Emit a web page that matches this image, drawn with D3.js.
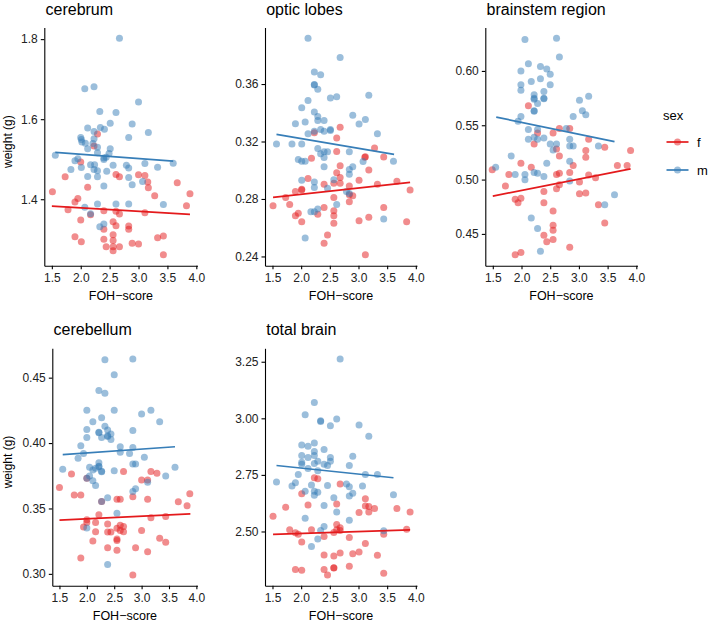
<!DOCTYPE html>
<html><head><meta charset="utf-8">
<script src="https://cdn.jsdelivr.net/npm/d3@7"></script>
<style>body{margin:0;background:#fff}svg{display:block;font-family:"Liberation Sans",Arial,Helvetica,sans-serif}</style>
</head><body><svg id="c" width="709" height="625"></svg>
<script>
// ---------- data ----------
const xTicks = [1.5, 2.0, 2.5, 3.0, 3.5, 4.0];
const sexes = ["f", "m"];
const sexColors = ["#E41A1C", "#377EB8"];

const cerebrumM = [[2.67,1.802],[2.07,1.676],[2.23,1.681],[3.00,1.643],[2.33,1.619],[2.61,1.617],[2.12,1.578],[2.34,1.579],[2.41,1.575],[2.51,1.590],[2.89,1.588],[3.17,1.567],[2.23,1.569],[2.83,1.554],[2.00,1.554],[2.01,1.549],[2.02,1.543],[2.23,1.551],[2.08,1.540],[2.12,1.526],[2.21,1.539],[2.29,1.530],[2.51,1.526],[2.29,1.516],[1.56,1.510],[2.49,1.514],[2.44,1.505],[2.40,1.503],[2.40,1.499],[1.95,1.501],[1.90,1.496],[2.01,1.479],[1.83,1.474],[2.17,1.486],[2.24,1.486],[2.23,1.474],[2.29,1.471],[2.45,1.470],[2.56,1.485],[2.79,1.485],[2.83,1.478],[3.11,1.489],[3.33,1.480],[3.60,1.490],[2.12,1.457],[2.29,1.456],[2.83,1.454],[2.40,1.433],[2.89,1.436],[3.07,1.444],[2.07,1.380],[2.29,1.388],[2.61,1.388],[2.83,1.388],[3.43,1.387],[2.17,1.364],[2.33,1.331],[2.40,1.338]];
const cerebrumF = [[2.29,1.563],[2.23,1.533],[2.00,1.493],[1.73,1.456],[2.61,1.462],[2.67,1.456],[3.00,1.461],[3.11,1.459],[3.16,1.443],[3.17,1.429],[3.67,1.441],[1.51,1.419],[2.12,1.430],[3.89,1.414],[3.28,1.409],[1.95,1.402],[1.90,1.393],[1.78,1.374],[3.83,1.384],[2.17,1.361],[2.40,1.371],[2.61,1.370],[2.67,1.363],[3.11,1.366],[2.00,1.348],[2.56,1.344],[2.61,1.334],[2.83,1.333],[2.83,1.325],[2.40,1.325],[1.90,1.306],[2.56,1.311],[2.01,1.294],[2.40,1.300],[2.56,1.297],[2.89,1.290],[3.00,1.288],[3.33,1.304],[3.43,1.308],[2.44,1.281],[2.56,1.281],[2.67,1.281],[2.56,1.271],[3.43,1.261]];
const cerebrumFitM = [[1.56,1.517],[3.60,1.495]];
const cerebrumFitF = [[1.50,1.383],[3.89,1.362]];

const opticM = [[2.12,0.3918],[2.68,0.3785],[2.23,0.3683],[2.34,0.3665],[2.23,0.3597],[2.23,0.3593],[2.29,0.3563],[2.12,0.3485],[2.51,0.3503],[2.62,0.3512],[3.18,0.3522],[2.01,0.3434],[2.23,0.3406],[2.29,0.3374],[2.90,0.3383],[1.90,0.3323],[2.07,0.3335],[2.29,0.3346],[2.40,0.3346],[3.12,0.3353],[3.01,0.3321],[2.23,0.3272],[2.34,0.3284],[2.40,0.3272],[2.51,0.3277],[2.51,0.3284],[2.12,0.3254],[3.33,0.3254],[1.57,0.3182],[1.84,0.3182],[2.01,0.3182],[2.29,0.3152],[2.34,0.3115],[2.40,0.3129],[2.46,0.3129],[2.40,0.3088],[2.84,0.3129],[1.95,0.3074],[2.01,0.3062],[2.07,0.3062],[3.08,0.3060],[3.61,0.3062],[2.40,0.3025],[2.90,0.3025],[2.84,0.3005],[2.84,0.2972],[2.01,0.2931],[2.23,0.2919],[2.57,0.2933],[2.23,0.2880],[2.46,0.2875],[2.79,0.2852],[2.84,0.2838],[2.62,0.2762],[2.23,0.2711],[2.17,0.2711],[2.29,0.2730],[3.44,0.2661],[2.07,0.2529]];
const opticF = [[2.68,0.3300],[2.23,0.3261],[2.62,0.3224],[3.28,0.3155],[3.12,0.3094],[3.11,0.3090],[3.44,0.3092],[2.18,0.3083],[2.62,0.3131],[2.68,0.3032],[3.18,0.3002],[2.62,0.2982],[2.68,0.2949],[2.12,0.2942],[2.57,0.2910],[2.68,0.2910],[3.01,0.2931],[3.33,0.2903],[2.40,0.2903],[2.84,0.2891],[3.67,0.2924],[3.90,0.2862],[1.90,0.2852],[2.01,0.2868],[2.01,0.2862],[2.84,0.2829],[2.90,0.2822],[2.57,0.2811],[1.73,0.2811],[1.80,0.2762],[2.84,0.2781],[1.51,0.2753],[2.40,0.2741],[3.44,0.2741],[2.57,0.2718],[1.95,0.2700],[2.29,0.2693],[1.90,0.2684],[2.57,0.2684],[3.18,0.2672],[2.01,0.2642],[2.57,0.2631],[3.01,0.2649],[3.84,0.2642],[2.46,0.2550],[2.40,0.2492],[3.12,0.2411]];
const opticFitM = [[1.57,0.3249],[3.62,0.3111]];
const opticFitF = [[1.51,0.2811],[3.90,0.2915]];

const brainstemM = [[2.06,0.629],[2.61,0.630],[2.66,0.6128],[2.12,0.6067],[1.99,0.600],[2.33,0.604],[2.44,0.6018],[2.50,0.5969],[2.33,0.5927],[2.17,0.5902],[1.99,0.5872],[2.50,0.5872],[1.99,0.5823],[2.39,0.5811],[2.22,0.578],[3.17,0.5768],[3.01,0.5731],[2.22,0.5748],[2.22,0.5740],[2.39,0.5749],[2.39,0.5745],[2.28,0.5701],[2.22,0.5633],[2.22,0.5628],[3.06,0.5633],[3.12,0.5597],[1.99,0.5581],[2.90,0.5581],[1.94,0.5536],[2.12,0.5462],[2.28,0.5462],[2.78,0.5471],[2.12,0.5371],[2.22,0.5389],[2.28,0.5371],[2.39,0.5383],[2.84,0.5371],[2.50,0.5328],[2.61,0.5328],[2.84,0.531],[2.90,0.531],[3.34,0.531],[2.55,0.5273],[1.82,0.5218],[2.44,0.5151],[2.84,0.5169],[1.55,0.5114],[1.89,0.5047],[2.06,0.5047],[2.22,0.5065],[2.28,0.5059],[2.39,0.5028],[2.06,0.4998],[2.84,0.4986],[3.62,0.4860],[3.45,0.4769],[2.17,0.4647],[2.28,0.4549],[2.33,0.4341]];
const brainstemF = [[2.12,0.5679],[2.28,0.5429],[2.84,0.5471],[2.66,0.5471],[2.55,0.5429],[2.22,0.5328],[3.45,0.5297],[3.17,0.5371],[2.61,0.5282],[3.12,0.5267],[3.90,0.5267],[2.66,0.5218],[3.12,0.5206],[1.99,0.5151],[1.49,0.509],[2.17,0.5114],[2.90,0.5129],[3.67,0.5129],[3.84,0.5129],[1.78,0.5047],[2.61,0.5047],[2.66,0.5059],[2.84,0.5065],[3.17,0.5041],[3.29,0.5016],[3.01,0.4977],[1.72,0.494],[2.66,0.4952],[2.61,0.4915],[2.39,0.4891],[3.01,0.487],[3.12,0.4876],[1.89,0.4818],[1.99,0.4827],[1.94,0.4787],[2.39,0.4787],[3.34,0.4769],[2.55,0.4711],[3.45,0.4601],[2.55,0.4579],[2.55,0.4533],[2.39,0.4488],[2.55,0.4448],[2.44,0.4427],[2.84,0.4378],[1.89,0.4307],[1.99,0.4329]];
const brainstemFitM = [[1.56,0.5575],[3.62,0.5349]];
const brainstemFitF = [[1.50,0.4848],[3.90,0.5099]];

const cerebellumM = [[2.33,0.4637],[2.84,0.4642],[2.50,0.4523],[2.22,0.4401],[2.33,0.4381],[2.00,0.4251],[2.50,0.4251],[3.17,0.4251],[3.00,0.4223],[2.11,0.4162],[2.27,0.4193],[3.33,0.4162],[2.33,0.4129],[2.00,0.4104],[2.38,0.4099],[2.22,0.4083],[2.22,0.4079],[2.84,0.4096],[2.44,0.4069],[2.38,0.4055],[2.38,0.4051],[2.00,0.4043],[2.27,0.4043],[2.44,0.4028],[1.89,0.3980],[2.61,0.3972],[2.84,0.3967],[2.61,0.3929],[1.94,0.3921],[2.78,0.3921],[1.84,0.3883],[3.05,0.3891],[2.84,0.384],[2.89,0.384],[2.22,0.385],[2.05,0.3815],[2.22,0.3822],[2.22,0.3818],[1.56,0.380],[2.16,0.3807],[3.61,0.3815],[2.11,0.3794],[2.27,0.3784],[2.27,0.3780],[2.50,0.3789],[2.05,0.3749],[3.44,0.3749],[2.00,0.3731],[2.11,0.3711],[3.11,0.3701],[2.89,0.365],[2.84,0.3629],[2.16,0.3675],[2.38,0.3581],[2.55,0.3464],[2.00,0.335],[2.38,0.3071],[2.27,0.3553]];
const cerebellumF = [[1.72,0.3764],[2.67,0.3782],[3.17,0.3782],[3.28,0.3769],[3.00,0.3718],[3.11,0.3718],[1.50,0.366],[3.88,0.3612],[1.77,0.3602],[1.89,0.3602],[2.55,0.3571],[2.61,0.3571],[2.84,0.3589],[3.11,0.3571],[3.67,0.3551],[3.83,0.352],[2.22,0.3452],[3.44,0.3439],[3.17,0.3429],[2.00,0.3414],[1.94,0.3358],[2.00,0.3393],[2.16,0.3393],[2.38,0.3381],[2.55,0.3348],[2.61,0.3332],[2.67,0.3363],[2.67,0.3322],[2.61,0.3371],[2.38,0.332],[2.44,0.332],[3.00,0.3332],[2.16,0.3322],[2.11,0.3251],[2.55,0.3256],[2.55,0.3266],[3.33,0.3272],[3.44,0.3241],[2.38,0.32],[2.89,0.32],[2.55,0.318],[3.11,0.317],[1.89,0.3122],[2.84,0.2992],[2.00,0.3731],[2.27,0.3553]];
const cerebellumFitM = [[1.56,0.3911],[3.61,0.3972]];
const cerebellumFitF = [[1.50,0.3411],[3.89,0.3459]];

const totalM = [[2.68,3.2617],[2.23,3.070],[2.07,3.0156],[2.62,2.9966],[2.34,2.989],[2.34,2.986],[2.51,2.9673],[3.01,2.9702],[3.18,2.9204],[2.01,2.8823],[2.12,2.8765],[2.23,2.8911],[2.40,2.8618],[2.23,2.853],[2.01,2.8355],[2.23,2.8355],[2.12,2.8267],[2.51,2.8267],[2.90,2.8325],[2.29,2.8106],[2.51,2.8106],[2.01,2.8062],[2.01,2.7974],[2.23,2.8003],[2.40,2.7974],[2.46,2.7915],[2.84,2.7915],[2.12,2.7783],[2.29,2.7681],[1.95,2.752],[3.12,2.752],[3.33,2.752],[1.57,2.7183],[1.90,2.7153],[1.84,2.7007],[2.18,2.7051],[2.46,2.7036],[2.79,2.7095],[2.84,2.6978],[3.07,2.7007],[2.23,2.6773],[2.29,2.6729],[2.07,2.6773],[2.23,2.6597],[2.90,2.6685],[2.84,2.6568],[3.61,2.6626],[2.57,2.6494],[2.40,2.6143],[2.62,2.5864],[2.07,2.5586],[2.84,2.5498],[2.40,2.522],[2.34,2.5044],[3.44,2.503],[2.29,2.4663],[2.18,2.4341]];
const totalF = [[2.29,2.7329],[2.23,2.7373],[2.68,2.7095],[2.01,2.667],[2.12,2.6172],[2.62,2.6216],[1.73,2.607],[3.12,2.645],[3.12,2.6128],[3.28,2.6011],[3.18,2.6099],[3.67,2.6011],[3.01,2.5835],[3.18,2.5864],[3.90,2.5864],[1.51,2.5674],[2.62,2.5308],[2.68,2.5161],[2.68,2.5044],[2.18,2.5073],[1.80,2.5073],[1.90,2.4941],[1.95,2.4883],[2.57,2.4956],[2.62,2.5073],[2.40,2.478],[2.84,2.4737],[3.44,2.4883],[3.84,2.5103],[2.01,2.4531],[3.12,2.4473],[2.40,2.396],[2.57,2.3916],[2.68,2.4048],[2.90,2.4019],[3.01,2.4092],[3.33,2.3946],[2.84,2.3462],[1.90,2.3316],[2.01,2.3287],[2.40,2.3316],[2.57,2.3395],[2.57,2.3385],[2.46,2.3081],[3.44,2.3155]];
const totalFitM = [[1.57,2.7915],[3.61,2.7373]];
const totalFitF = [[1.51,2.4868],[3.90,2.5073]];

const cerebrumTicks = [1.4, 1.6, 1.8];
const opticTicks = [0.24, 0.28, 0.32, 0.36];
const brainstemTicks = [0.45, 0.50, 0.55, 0.60];
const cerebellumTicks = [0.30, 0.35, 0.40, 0.45];
const totalTicks = [2.50, 2.75, 3.00, 3.25];

// ---------- layout ----------
const panels = [
  {title:"cerebrum", f:cerebrumF, m:cerebrumM, fitF:cerebrumFitF, fitM:cerebrumFitM, ticks:cerebrumTicks, fmt:".1f", l:44.3, r:197.5, t:27.5, b:265.7, ylab:true},
  {title:"optic lobes", f:opticF, m:opticM, fitF:opticFitF, fitM:opticFitM, ticks:opticTicks, fmt:".2f", l:265, r:417, t:27.5, b:265.7},
  {title:"brainstem region", f:brainstemF, m:brainstemM, fitF:brainstemFitF, fitM:brainstemFitM, ticks:brainstemTicks, fmt:".2f", l:485.3, r:637.5, t:27.5, b:265.7},
  {title:"cerebellum", f:cerebellumF, m:cerebellumM, fitF:cerebellumFitF, fitM:cerebellumFitM, ticks:cerebellumTicks, fmt:".2f", l:52.3, r:197.5, t:348.3, b:585.7, ylab:true},
  {title:"total brain", f:totalF, m:totalM, fitF:totalFitF, fitM:totalFitM, ticks:totalTicks, fmt:".2f", l:265, r:417, t:348.3, b:585.7}
];

const svg = d3.select("#c");
const color = d3.scaleOrdinal().domain(sexes).range(sexColors);

// shared x extent (same birds in every panel)
const allX = panels.flatMap(p => p.f.concat(p.m).map(d => d[0]));
const xe = d3.extent(allX);
const xpad = (xe[1]-xe[0])*0.05;

panels.forEach(p => {
  const g = svg.append("g");
  const x = d3.scaleLinear().domain([xe[0]-xpad, xe[1]+xpad]).range([p.l, p.r]);
  const ye = d3.extent(p.f.concat(p.m), d => d[1]);
  const ypad = (ye[1]-ye[0])*0.05;
  const y = d3.scaleLinear().domain([ye[0]-ypad, ye[1]+ypad]).range([p.b, p.t]);

  const pts = p.f.map(d => ({x:d[0], y:d[1], s:"f"})).concat(p.m.map(d => ({x:d[0], y:d[1], s:"m"})));
  g.append("g").selectAll("circle").data(pts).join("circle")
    .attr("cx", d => x(d.x)).attr("cy", d => y(d.y)).attr("r", 3.5)
    .attr("fill", d => color(d.s)).attr("fill-opacity", 0.5);

  const line = d3.line().x(d => x(d[0])).y(d => y(d[1]));
  [["f", p.fitF], ["m", p.fitM]].forEach(([s, fit]) => {
    g.append("path").attr("d", line(fit)).attr("fill", "none")
      .attr("stroke", color(s)).attr("stroke-width", 1.7);
  });

  const ax = g.append("g").attr("transform", `translate(0,${p.b})`)
    .call(d3.axisBottom(x).tickValues(xTicks).tickFormat(d3.format(".1f")).tickSize(3.5).tickSizeOuter(0).tickPadding(4));
  const ay = g.append("g").attr("transform", `translate(${p.l},0)`)
    .call(d3.axisLeft(y).tickValues(p.ticks).tickFormat(d3.format(p.fmt)).tickSize(3.5).tickSizeOuter(0).tickPadding(3));
  [ax, ay].forEach(a => {
    a.select(".domain").attr("stroke", "#000").attr("stroke-width", 1.1);
    a.selectAll(".tick line").attr("stroke", "#000").attr("stroke-width", 1.1);
    a.selectAll(".tick text").attr("fill", "#222").attr("font-size", 12).attr("font-family", null);
  });

  g.append("text").attr("x", p.l + 1.2).attr("y", p.t - 13)
    .attr("font-size", 16).attr("fill", "#000").text(p.title);
  g.append("text").attr("x", (p.l + p.r)/2).attr("y", p.b + 34.5)
    .attr("text-anchor", "middle").attr("font-size", 12.5).attr("fill", "#000").text("FOH\u2212score");
  if (p.ylab) {
    g.append("text").attr("transform", `translate(12,${(p.t + p.b)/2 - 5}) rotate(-90)`)
      .attr("text-anchor", "middle").attr("font-size", 12).attr("fill", "#000").text("weight (g)");
  }
});

// legend
const lg = svg.append("g");
lg.append("text").attr("x", 663).attr("y", 120).attr("font-size", 13).attr("fill", "#000").text("sex");
sexes.forEach((s, i) => {
  const cy = 142 + i*28;
  lg.append("line").attr("x1", 666.5).attr("x2", 688.5).attr("y1", cy).attr("y2", cy)
    .attr("stroke", color(s)).attr("stroke-width", 1.7);
  lg.append("circle").attr("cx", 677.5).attr("cy", cy).attr("r", 3.5)
    .attr("fill", color(s)).attr("fill-opacity", 0.5);
  lg.append("text").attr("x", 697).attr("y", cy + 4.5).attr("font-size", 13).attr("fill", "#000").text(s);
});
</script></body></html>
